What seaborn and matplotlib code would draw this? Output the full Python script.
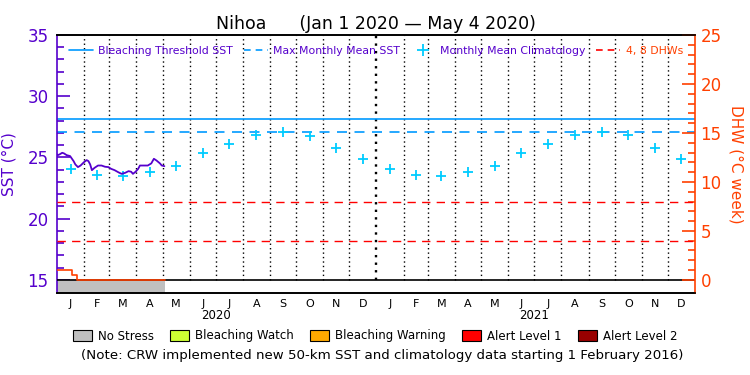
import numpy as np
import pandas as pd
import matplotlib
matplotlib.use("Agg")
import matplotlib.pyplot as plt
import matplotlib.transforms as mtransforms
from matplotlib.lines import Line2D
from matplotlib.patches import Patch
from matplotlib.ticker import FixedLocator
import seaborn as sns

TITLE = "Nihoa      (Jan 1 2020 \u2014 May 4 2020)"
START = pd.Timestamp("2020-01-01")

# daily SST trace: day since Jan 1 2020, deg C
SST_DAYS = [0, 1, 3, 6, 8, 11, 15, 19, 21, 24, 27, 31, 34, 36, 38, 40, 43, 47,
            51, 55, 59, 62, 66, 70, 74, 78, 82, 85, 87, 90, 93, 95, 99, 104,
            108, 111, 114, 118, 120, 123]
SST_VALUES = [25.25, 25.19, 25.25, 25.38, 25.33, 25.19, 25.11, 24.70, 24.43,
              24.21, 24.34, 24.62, 24.78, 24.70, 24.43, 23.96, 24.15, 24.34,
              24.34, 24.24, 24.21, 24.07, 23.96, 23.80, 23.66, 23.74, 23.88,
              23.83, 23.66, 23.83, 24.07, 24.34, 24.34, 24.34, 24.51, 24.89,
              24.75, 24.51, 24.34, 24.29]

# degree heating weeks (step line)
DHW_DAYS = [0, 17, 23, 124]
DHW_VALUES = [1.0, 0.5, 0.0, 0.0]

# monthly mean climatology, Jan 2020 .. Dec 2021
CLIM_VALUES = [24.07, 23.55, 23.47, 23.83, 24.29, 25.38, 26.12, 26.80, 27.10,
               26.75, 25.76, 24.89,
               24.07, 23.58, 23.50, 23.85, 24.32, 25.38, 26.12, 26.80, 27.10,
               26.80, 25.76, 24.87]

BLEACHING_THRESHOLD = 28.1
MMM = 27.1
DHW_LEVELS = [4, 8]

# stress level bar
STRESS_START, STRESS_END = 0, 124
STRESS_LABELS = ["No Stress", "Bleaching Watch", "Bleaching Warning",
                 "Alert Level 1", "Alert Level 2"]
STRESS_COLORS = ["#c0c0c0", "#ccff33", "#ffaa00", "#ff0000", "#990000"]

MONTH_LETTERS = ["J", "F", "M", "A", "M", "J", "J", "A", "S", "O", "N", "D"] * 2
YEARS = ["2020", "2021"]

PURPLE = "#5500cc"
ORANGE = "#ff4000"
BLUE = "#0099ff"
CYAN = "#00ccff"
RED = "#ff0000"

SST_LO, SST_HI = 13.93, 35.0


def to_dhw(sst):
    return (sst - 15.0) * 1.25


def main() -> None:
    sns.set_style("white")
    plt.rcParams["font.family"] = ["DejaVu Sans"]
    plt.rcParams["text.color"] = "black"
    plt.rcParams["xtick.color"] = "black"
    plt.rcParams["xtick.labelcolor"] = "black"

    month_starts = pd.date_range("2020-01-01", "2022-01-01", freq="MS")
    month_days = np.array((month_starts - START).days)
    month_mid = (month_days[:-1] + month_days[1:]) / 2
    total_days = month_days[-1]

    fig = plt.figure(figsize=(7.5, 3.75), dpi=100)
    ax = fig.add_axes([0.076, 0.2187, 0.8507, 0.688])
    ax2 = ax.twinx()

    ax.set_xlim(0, total_days)
    ax.set_ylim(SST_LO, SST_HI)
    ax2.set_ylim(to_dhw(SST_LO), to_dhw(SST_HI))

    # month separators
    for d in month_days[1:-1]:
        lw = 1.7 if d == 366 else 1.0
        ax.vlines(d, 15, 35, colors="black", linestyles=(0, (1, 2.2)), lw=lw, zorder=1)

    # stress bar and baseline
    ax.fill_between([STRESS_START, STRESS_END], SST_LO, 15,
                    color=STRESS_COLORS[0], lw=0, zorder=1)
    ax.axhline(15, color="black", lw=1.2, zorder=3)

    ax.axhline(BLEACHING_THRESHOLD, color=BLUE, lw=1.2, zorder=2)
    ax.axhline(MMM, color=BLUE, lw=1.2, ls=(0, (6, 4.5)), zorder=2)

    sns.scatterplot(x=month_mid, y=CLIM_VALUES, marker="+", s=55,
                    color=CYAN, linewidth=1.3, ax=ax, zorder=4)
    sns.lineplot(x=SST_DAYS, y=SST_VALUES, color=PURPLE, lw=1.3, ax=ax, zorder=5)

    for lvl in DHW_LEVELS:
        ax2.axhline(lvl, color=RED, lw=1.0, ls=(0, (6, 4.5)), zorder=2)
    ax2.step(DHW_DAYS, DHW_VALUES, where="post", color=ORANGE, lw=1.2, zorder=3)

    # axes styling
    for a in (ax, ax2):
        a.spines["top"].set_color("black")
        a.spines["bottom"].set_color("black")
    ax.spines["left"].set_color(PURPLE)
    ax.spines["right"].set_visible(False)
    ax2.spines["left"].set_visible(False)
    ax2.spines["right"].set_color(ORANGE)
    for a in (ax, ax2):
        for s in a.spines.values():
            s.set_linewidth(1.2)

    ax.yaxis.set_major_locator(FixedLocator([15, 20, 25, 30, 35]))
    ax.yaxis.set_minor_locator(FixedLocator(list(range(15, 36))))
    ax.tick_params(axis="y", which="major", direction="in", length=9.5, width=1.2,
                   color=PURPLE, labelcolor=PURPLE, labelsize=12, pad=6)
    ax.tick_params(axis="y", which="minor", direction="in", length=5, width=1.2,
                   color=PURPLE)
    ax.set_ylabel("SST (\u00b0C)", color=PURPLE, fontsize=11, labelpad=8)

    ax2.yaxis.set_major_locator(FixedLocator([0, 5, 10, 15, 20, 25]))
    ax2.yaxis.set_minor_locator(FixedLocator(list(range(0, 26))))
    ax2.tick_params(axis="y", which="major", direction="in", length=9.5, width=1.2,
                    color=ORANGE, labelcolor=ORANGE, labelsize=12, pad=4)
    ax2.tick_params(axis="y", which="minor", direction="in", length=5, width=1.2,
                    color=ORANGE)
    ax2.set_ylabel("DHW (\u00b0C week)", color=ORANGE, fontsize=11,
                   rotation=270, labelpad=16)

    ax.set_xticks(month_mid)
    ax.set_xticklabels(MONTH_LETTERS, fontsize=8)
    ax.tick_params(axis="x", length=0, pad=4, labelcolor="black")
    ax.set_xlabel("")

    trans = mtransforms.blended_transform_factory(ax.transData, ax.transAxes)
    for yr, mid in zip(YEARS, [month_days[6], month_days[18]]):
        ax.text(mid, -0.062, yr, transform=trans, ha="center", va="top", fontsize=8.5)

    ax.set_title(TITLE, fontsize=12.5, pad=4, color="black")

    # top legend
    handles = [
        Line2D([], [], color=BLUE, lw=1.2),
        Line2D([], [], color=BLUE, lw=1.2, ls=(0, (4, 3))),
        Line2D([], [], color=CYAN, marker="+", ls="none", ms=8, mew=1.3),
        Line2D([], [], color=RED, lw=1.2, ls=(0, (4, 3))),
    ]
    labels = ["Bleaching Threshold SST", "Max Monthly Mean SST",
              "Monthly Mean Climatology", "4, 8 DHWs"]
    leg = ax2.legend(handles, labels, loc="upper center", bbox_to_anchor=(0.5, 0.995),
                     ncol=4, frameon=False, fontsize=7.8, handlelength=2.2,
                     handletextpad=0.5, columnspacing=1.0)
    for t, c in zip(leg.get_texts(), [PURPLE, PURPLE, PURPLE, ORANGE]):
        t.set_color(c)

    # bottom stress legend
    patches = [Patch(facecolor=c, edgecolor="black", lw=0.8) for c in STRESS_COLORS]
    fig.legend(patches, STRESS_LABELS, loc="center", bbox_to_anchor=(0.5, 0.104),
               ncol=5, frameon=False, fontsize=8.5, handlelength=1.6,
               handleheight=1.1, handletextpad=0.5, columnspacing=1.4)
    fig.text(0.51, 0.053,
             "(Note: CRW implemented new 50-km SST and climatology data starting 1 February 2016)",
             ha="center", va="center", fontsize=9.6)

    fig.savefig("out.png", dpi=100)
    plt.close(fig)


if __name__ == "__main__":
    main()
